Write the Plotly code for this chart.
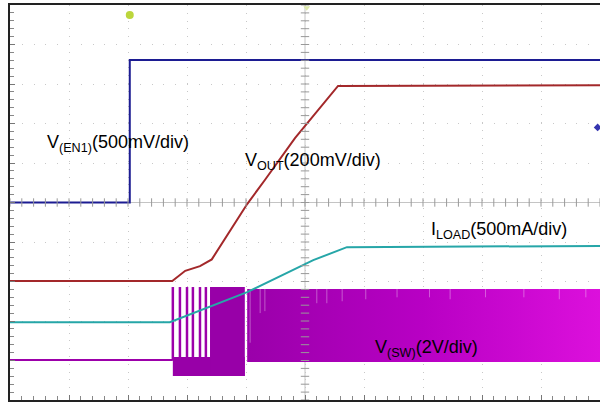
import numpy as np
import plotly.graph_objects as go

# scope screen: 10 x 10 divisions, x = time (div), y = level (div, 0 = centre line)
en_t = [0.0, 2.03, 2.03, 10.0]
en_v = [0.00, 0.00, 3.61, 3.61]

vout_t = [0.0, 2.75, 2.97, 3.22, 3.42, 4.02, 4.32, 4.83, 5.56, 10.0]
vout_v = [-1.99, -1.99, -1.73, -1.61, -1.44, -0.04, 0.57, 1.63, 2.95, 2.97]

iload_t = [0.0, 2.71, 4.02, 5.14, 5.71, 10.0]
iload_v = [-3.03, -3.03, -2.27, -1.46, -1.13, -1.10]

sw_idle_t = [0.0, 2.76]
sw_idle_v = [-3.99, -3.99]

# first separate pulses of the switch node
sw_pulse_t = [2.76, 2.88, 3.00, 3.10, 3.22, 3.32]
sw_pulse_top = -2.14
sw_pulse_bot = -3.99

# dense switching drawn as bands: start, end, top, bottom
sw_band_start = [2.76, 3.39, 4.02]
sw_band_end = [3.98, 3.98, 10.0]
sw_band_top = [-3.91, -2.14, -2.19]
sw_band_bot = [-4.39, -4.39, -4.04]

# lighter streaks inside the running band
sw_gap_t = [4.07, 4.24, 4.32, 5.20, 5.37, 5.63, 6.03, 6.56, 7.11, 7.46, 8.06, 8.71, 9.31, 9.76]
sw_gap_bot = [-3.55, -2.80, -2.75, -2.55, -2.55, -2.50, -2.45, -2.40, -2.40, -2.45, -2.40, -2.40, -2.45, -2.40]

labels = ["V<sub>(EN1)</sub>(500mV/div)", "V<sub>OUT</sub>(200mV/div)",
          "I<sub>LOAD</sub>(500mA/div)", "V<sub>(SW)</sub>(2V/div)"]
label_x = [0.60, 3.95, 7.10, 6.15]
label_y = [1.49, 1.04, -0.70, -3.69]

EN_C = '#1c1c92'
VOUT_C = '#a3282a'
ILOAD_C = '#26a6a8'
SW_C = '#9c00aa'

fig = go.Figure()

# switch node
fig.add_trace(go.Scatter(x=sw_idle_t, y=sw_idle_v, mode='lines',
                         line=dict(color=SW_C, width=2)))
for i in range(len(sw_band_start)):
    xs = [sw_band_start[i], sw_band_end[i], sw_band_end[i], sw_band_start[i], sw_band_start[i]]
    ys = [sw_band_top[i], sw_band_top[i], sw_band_bot[i], sw_band_bot[i], sw_band_top[i]]
    if i == 2:
        fig.add_trace(go.Scatter(x=xs, y=ys, mode='lines', fill='toself',
                                 line=dict(width=0),
                                 fillgradient=dict(type='horizontal',
                                                   colorscale=[[0, '#9a00aa'], [0.5, '#b800c4'], [1, '#dc10dc']])))
    else:
        fig.add_trace(go.Scatter(x=xs, y=ys, mode='lines', fill='toself',
                                 line=dict(width=0), fillcolor='#9800a8'))

px, py = [], []
for t in sw_pulse_t:
    px += [t, t, None]
    py += [sw_pulse_bot, sw_pulse_top, None]
fig.add_trace(go.Scatter(x=px, y=py, mode='lines', line=dict(color=SW_C, width=2.5)))

gx, gy = [], []
for t, b in zip(sw_gap_t, sw_gap_bot):
    gx += [t, t, None]
    gy += [sw_band_top[2] + 0.02, b, None]
fig.add_trace(go.Scatter(x=gx, y=gy, mode='lines',
                         line=dict(color='rgba(255,255,255,0.35)', width=1)))

fig.add_trace(go.Scatter(x=iload_t, y=iload_v, mode='lines', line=dict(color=ILOAD_C, width=2)))
fig.add_trace(go.Scatter(x=vout_t, y=vout_v, mode='lines', line=dict(color=VOUT_C, width=2)))
fig.add_trace(go.Scatter(x=en_t, y=en_v, mode='lines', line=dict(color=EN_C, width=2)))

# centre crosshair ticks
mx = np.arange(0, 10.01, 0.2)
my = np.arange(-5, 5.01, 0.2)
fig.add_trace(go.Scatter(x=mx, y=[0] * len(mx), mode='markers',
                         marker=dict(symbol='line-ns', size=6, line=dict(color='#999', width=1))))
fig.add_trace(go.Scatter(x=[5] * len(my), y=my, mode='markers',
                         marker=dict(symbol='line-ew', size=6, line=dict(color='#999', width=1))))

# scope markers: trigger position, horizontal position, channel level
fig.add_trace(go.Scatter(x=[en_t[1]], y=[4.75], mode='markers',
                         marker=dict(symbol='circle', size=8, color='#bcd63c')))
fig.add_trace(go.Scatter(x=[5.03], y=[4.93], mode='markers',
                         marker=dict(symbol='triangle-down', size=6, color='#dde9aa')))
fig.add_trace(go.Scatter(x=[9.96], y=[1.90], mode='markers',
                         marker=dict(symbol='diamond', size=6, color='#3535b0')))

fig.add_shape(type='line', x0=5, x1=5, y0=-5, y1=5, line=dict(color='#c4c4c4', width=1), layer='below')
fig.add_shape(type='line', x0=0, x1=10, y0=0, y1=0, line=dict(color='#c4c4c4', width=1), layer='below')

for txt, x, y in zip(labels, label_x, label_y):
    fig.add_annotation(x=x, y=y, text=txt, showarrow=False, xanchor='left', yanchor='middle',
                       font=dict(size=18, color='black'))

fig.update_layout(
    width=600, height=402,
    margin=dict(l=10, r=0, t=5, b=2),
    paper_bgcolor='white', plot_bgcolor='white',
    showlegend=False, hovermode=False,
    font=dict(family='Liberation Sans, Arial, sans-serif'),
    xaxis=dict(range=[0, 10], dtick=1, showticklabels=False, zeroline=False,
               showgrid=True, gridcolor='#c8c8c8', griddash='1px,6.8px', gridwidth=1,
               showline=True, linecolor='#222', linewidth=2, mirror=True,
               ticks='inside', ticklen=5, tickcolor='#777',
               minor=dict(dtick=0.2, ticks='inside', ticklen=4, tickcolor='#888', showgrid=False)),
    yaxis=dict(range=[-5, 5], dtick=1, showticklabels=False, zeroline=False,
               showgrid=True, gridcolor='#c8c8c8', griddash='1px,10.8px', gridwidth=1,
               showline=True, linecolor='#222', linewidth=2,
               ticks='inside', ticklen=5, tickcolor='#777',
               minor=dict(dtick=0.2, ticks='inside', ticklen=4, tickcolor='#888', showgrid=False)),
)

# drop the default page margin so the figure fills the window
fig.write_html("out.html", config={'displayModeBar': False, 'staticPlot': True},
               post_script="document.body.style.margin='0';document.body.style.overflow='hidden';")
